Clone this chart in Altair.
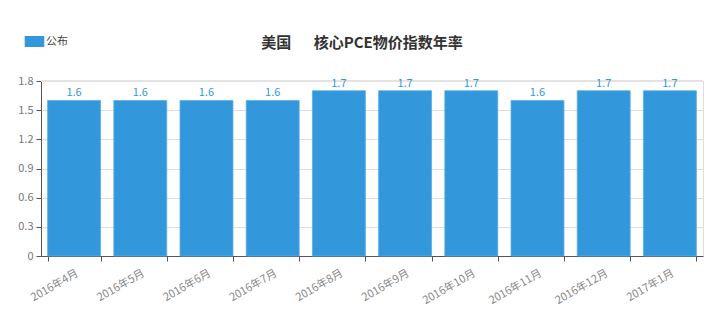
import altair as alt
import pandas as pd

months = ["2016年4月", "2016年5月", "2016年6月", "2016年7月", "2016年8月",
          "2016年9月", "2016年10月", "2016年11月", "2016年12月", "2017年1月"]
values = [1.6, 1.6, 1.6, 1.6, 1.7, 1.7, 1.7, 1.6, 1.7, 1.7]
series = ["公布"] * len(months)
y_ticks = [0, 0.3, 0.6, 0.9, 1.2, 1.5, 1.8]

df = pd.DataFrame({"month": months, "value": values, "series": series})

FONT = "Noto Sans CJK SC"
BLUE = "#3398DB"

x = alt.X("month:N", sort=months, title=None,
          scale=alt.Scale(paddingInner=0.2, paddingOuter=0.1),
          axis=alt.Axis(labelAngle=-30, labelAlign="right", labelBaseline="top",
                        labelPadding=6, tickBand="extent", tickSize=5,
                        domainColor="#555", tickColor="#555", labelColor="#888",
                        labelFontSize=11, labelFont=FONT))
y = alt.Y("value:Q", title=None,
          scale=alt.Scale(domain=[0, 1.8], nice=False),
          axis=alt.Axis(values=y_ticks, format="~g", tickSize=5, labelOverlap=False,
                        domainColor="#555", tickColor="#555", labelColor="#777",
                        labelFontSize=11, labelFont=FONT, gridColor="#dedede",
                        labelPadding=3))

top = alt.Chart(pd.DataFrame({"value": [y_ticks[-1]]})).mark_rule(color="#e3e3e3", strokeWidth=2).encode(
    y=y)

bars = alt.Chart(df).mark_bar(stroke="#5aaee6", strokeWidth=0.8).encode(
    x=x, y=y,
    color=alt.Color("series:N", scale=alt.Scale(range=[BLUE]),
                    legend=alt.Legend(title=None, orient="none", legendX=-13, legendY=-46,
                                      symbolType="M-1.6,-0.9L1.6,-0.9L1.6,0.9L-1.6,0.9Z",
                                      symbolSize=150, symbolStrokeWidth=0,
                                      labelFont=FONT, labelFontSize=11, labelColor="#444",
                                      labelOffset=5)))

labels = alt.Chart(df).mark_text(dy=-7, color=BLUE, fontSize=11, font=FONT).encode(
    x=alt.X("month:N", sort=months), y=y, text=alt.Text("value:Q", format=".1f"))

chart = alt.layer(top, bars, labels).properties(
    width=662, height=175,
    title=alt.TitleParams("美国\u3000\u2002核心PCE物价指数年率", font=FONT, fontSize=15,
                          fontWeight="bold", color="#333", anchor="middle",
                          offset=22, dx=-10, dy=38),
    autosize=alt.AutoSizeParams(type="none"),
    padding={"left": 41, "top": 81, "right": 17, "bottom": 67},
).configure_view(stroke=None).configure(background="white")

chart.save("out.html", embed_options={"renderer": "svg", "actions": False})
